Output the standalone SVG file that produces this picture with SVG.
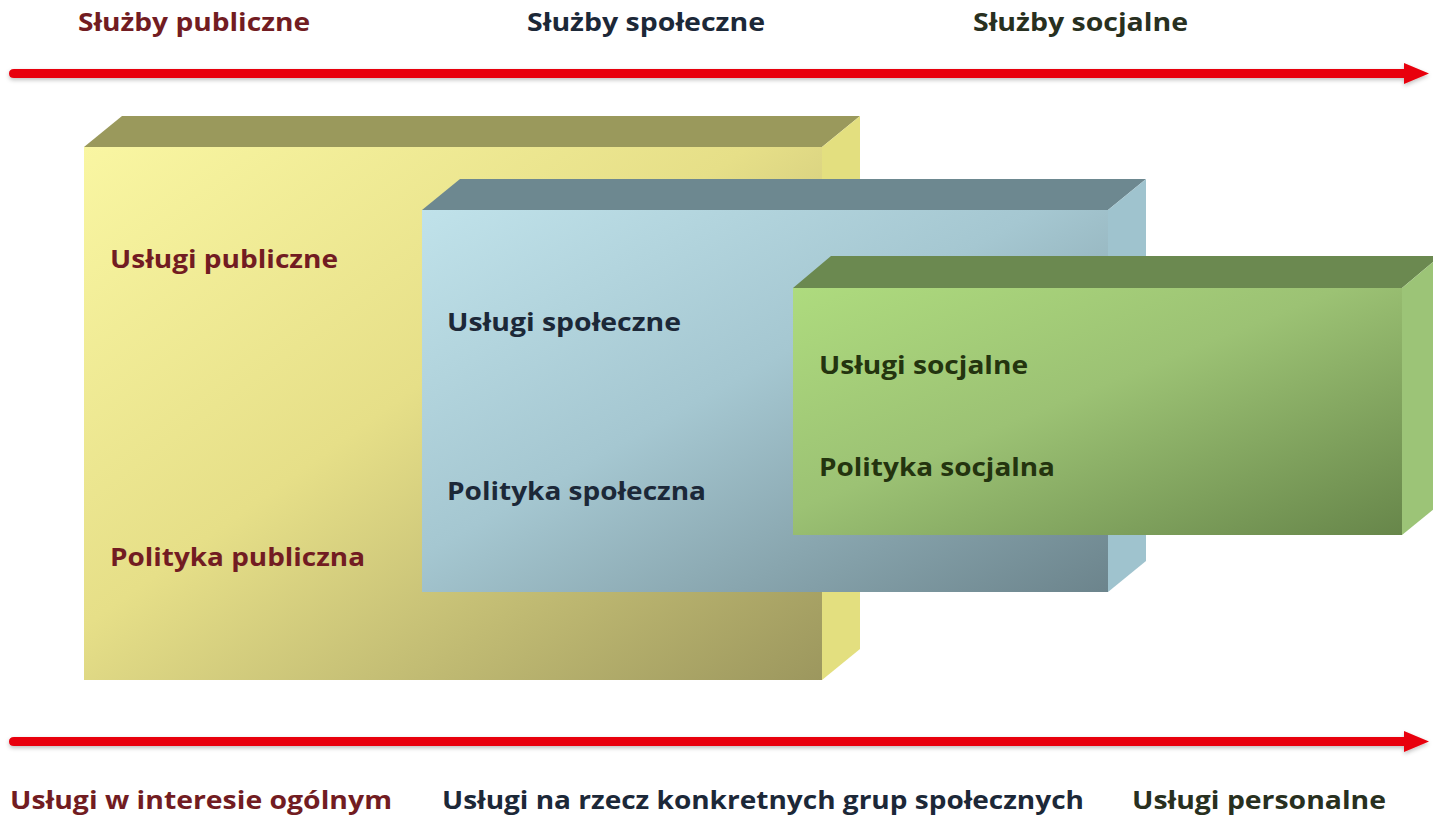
<svg xmlns="http://www.w3.org/2000/svg" width="1433" height="815" viewBox="0 0 1433 815">
<defs>
<linearGradient id="gY" x1="0" y1="0" x2="1" y2="1">
<stop offset="0" stop-color="#f9f6a2"/><stop offset="0.45" stop-color="#e6df88"/><stop offset="1" stop-color="#9c975e"/>
</linearGradient>
<linearGradient id="gB" x1="0" y1="0" x2="1" y2="1">
<stop offset="0" stop-color="#c0e2ea"/><stop offset="0.45" stop-color="#a5c7d1"/><stop offset="1" stop-color="#6c848c"/>
</linearGradient>
<linearGradient id="gG" x1="0" y1="0" x2="1" y2="1">
<stop offset="0" stop-color="#aedb7e"/><stop offset="0.45" stop-color="#9cc274"/><stop offset="1" stop-color="#67864a"/>
</linearGradient>
<filter id="sh" x="-5%" y="-50%" width="110%" height="300%">
<feGaussianBlur in="SourceAlpha" stdDeviation="2"/>
<feOffset dx="0" dy="2" result="b"/>
<feFlood flood-color="#000" flood-opacity="0.25"/>
<feComposite in2="b" operator="in"/>
<feMerge><feMergeNode/><feMergeNode in="SourceGraphic"/></feMerge>
</filter>
</defs>
<style>
text{font-family:"Open Sans","Liberation Sans",sans-serif;font-weight:bold;font-size:25px}
.red{fill:#721c22}
.navy{fill:#1c2838}
.olive{fill:#283020}
.grn{fill:#24340f}
.arrow{fill:#e8000c}
</style>
<rect width="1433" height="815" fill="#ffffff"/>

<g id="connectors">
<g id="arrow-top" filter="url(#sh)">
<path class="arrow" d="M14,69 L1404,69 L1404,63 L1429,73.5 L1404,84 L1404,78 L14,78 Q9,78 9,73.5 Q9,69 14,69 Z"/>
</g>
<g id="arrow-bottom" filter="url(#sh)">
<path class="arrow" d="M14,737 L1404,737 L1404,731 L1429,741.5 L1404,752 L1404,746 L14,746 Q9,746 9,741.5 Q9,737 14,737 Z"/>
</g>
</g>

<g id="header-labels">
<text class="red" x="78" y="31" textLength="232" lengthAdjust="spacingAndGlyphs">Służby publiczne</text>
<text class="navy" x="527" y="31" textLength="238" lengthAdjust="spacingAndGlyphs">Służby społeczne</text>
<text class="olive" x="973" y="31" textLength="215" lengthAdjust="spacingAndGlyphs">Służby socjalne</text>
</g>

<g id="box-public">
<polygon points="84,147 122,116 860,116 822,147" fill="#9a995c"/>
<polygon points="822,147 860,116 860,649 822,680" fill="#e3df7f"/>
<rect x="84" y="147" width="738" height="533" fill="url(#gY)"/>
<text class="red" x="110" y="268" textLength="228" lengthAdjust="spacingAndGlyphs">Usługi publiczne</text>
<text class="red" x="110" y="566" textLength="255" lengthAdjust="spacingAndGlyphs">Polityka publiczna</text>
</g>

<g id="box-social">
<polygon points="422,210 460,179 1146,179 1108,210" fill="#6d8890"/>
<polygon points="1108,210 1146,179 1146,561 1108,592" fill="#9fc3ce"/>
<rect x="422" y="210" width="686" height="382" fill="url(#gB)"/>
<text class="navy" x="447" y="331" textLength="234" lengthAdjust="spacingAndGlyphs">Usługi społeczne</text>
<text class="navy" x="447" y="500" textLength="259" lengthAdjust="spacingAndGlyphs">Polityka społeczna</text>
</g>

<g id="box-welfare">
<polygon points="793,288 831,256 1440,256 1402,288" fill="#6b8950"/>
<polygon points="1402,288 1440,256 1440,504 1402,535" fill="#9cc477"/>
<rect x="793" y="288" width="609" height="247" fill="url(#gG)"/>
<text class="grn" x="819" y="374" textLength="209" lengthAdjust="spacingAndGlyphs">Usługi socjalne</text>
<text class="grn" x="819" y="476" textLength="236" lengthAdjust="spacingAndGlyphs">Polityka socjalna</text>
</g>

<g id="footer-labels">
<text class="red" x="10" y="809" textLength="382" lengthAdjust="spacingAndGlyphs">Usługi w interesie ogólnym</text>
<text class="navy" x="442" y="809" textLength="642" lengthAdjust="spacingAndGlyphs">Usługi na rzecz konkretnych grup społecznych</text>
<text class="olive" x="1132" y="809" textLength="254" lengthAdjust="spacingAndGlyphs">Usługi personalne</text>
</g>
</svg>
